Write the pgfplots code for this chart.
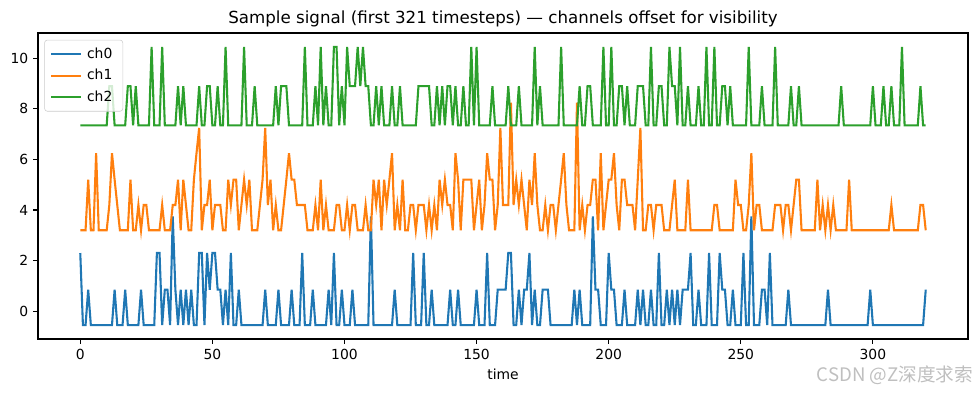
\documentclass[border=0pt]{standalone}
\usepackage{fontspec}
\setmainfont{DejaVu Sans}
\newfontfamily\cjk{Noto Sans CJK SC}
\usepackage{pgfplots}
\usepackage{pgfplotstable}
\pgfplotsset{compat=1.18}
\definecolor{c0}{HTML}{1F77B4}
\definecolor{c1}{HTML}{FF7F0E}
\definecolor{c2}{HTML}{2CA02C}
\pgfplotstableread{
t a b c
0 2.3 3.2 7.35
1 -0.55 3.2 7.35
2 -0.55 3.2 7.35
3 0.85 5.2 7.35
4 -0.55 3.2 7.35
5 -0.55 3.2 7.35
6 -0.55 6.25 7.35
7 -0.55 3.2 7.35
8 -0.55 3.2 7.35
9 -0.55 3.2 7.35
10 -0.55 3.2 7.35
11 -0.55 4.2 8.9
12 -0.55 6.25 8.9
13 0.85 5.2 7.35
14 -0.55 4.2 7.35
15 -0.55 3.2 7.35
16 -0.55 3.2 7.35
17 0.85 3.2 7.35
18 -0.55 3.2 8.9
19 -0.55 5.2 8.9
20 -0.55 3.2 7.35
21 -0.55 3.2 8.9
22 -0.55 4.2 7.35
23 0.85 3.2 7.35
24 -0.55 4.2 7.35
25 -0.55 4.2 7.35
26 -0.55 3.2 7.35
27 -0.55 3.2 10.45
28 -0.55 3.2 7.35
29 2.3 3.2 7.35
30 2.3 3.2 7.35
31 -0.55 4.2 10.45
32 0.85 3.2 7.35
33 0.85 3.2 7.35
34 -0.55 3.2 7.35
35 3.75 4.2 7.35
36 0.85 4.2 7.35
37 -0.55 5.2 8.9
38 0.85 3.2 7.35
39 -0.55 5.2 8.9
40 0.85 4.2 7.35
41 -0.55 3.2 7.35
42 0.85 3.2 7.35
43 -0.55 5.2 7.35
44 -0.55 6.25 7.35
45 2.3 7.25 8.9
46 2.3 3.2 7.35
47 -0.55 4.2 7.35
48 2.3 4.2 8.9
49 0.85 5.2 8.9
50 2.3 3.2 7.35
51 2.3 4.2 7.35
52 0.85 4.2 8.9
53 0.85 4.2 7.35
54 -0.55 3.2 7.35
55 0.85 3.2 10.45
56 -0.55 5.2 7.35
57 2.3 4.2 7.35
58 -0.55 5.2 7.35
59 -0.55 5.2 7.35
60 0.85 3.2 7.35
61 -0.55 4.2 7.35
62 -0.55 5.2 10.45
63 -0.55 4.2 7.35
64 -0.55 5.2 7.35
65 -0.55 3.2 7.35
66 -0.55 3.2 8.9
67 -0.55 3.2 7.35
68 -0.55 4.2 7.35
69 -0.55 5.2 7.35
70 0.85 7.25 7.35
71 -0.55 4.2 7.35
72 -0.55 5.2 7.35
73 -0.55 3.2 7.35
74 -0.55 4.2 8.9
75 0.85 3.2 7.35
76 -0.55 3.2 8.9
77 -0.55 4.2 8.9
78 -0.55 5.2 8.9
79 -0.55 6.25 7.35
80 0.85 5.2 7.35
81 -0.55 5.2 7.35
82 -0.55 4.2 7.35
83 -0.55 4.2 7.35
84 2.3 4.2 7.35
85 -0.55 4.2 10.45
86 -0.55 3.2 7.35
87 -0.55 3.2 7.35
88 0.85 3.2 7.35
89 -0.55 4.2 8.9
90 -0.55 3.2 7.35
91 -0.55 5.2 10.45
92 -0.55 3.2 7.35
93 -0.55 4.2 8.9
94 0.85 3.2 7.35
95 -0.55 3.2 7.35
96 2.3 3.2 10.45
97 -0.55 4.2 10.45
98 -0.55 4.2 7.35
99 0.85 3.2 8.9
100 -0.55 3.2 7.35
101 -0.55 4.2 10.45
102 -0.55 3.2 8.9
103 0.85 4.2 8.9
104 -0.55 4.2 8.9
105 -0.55 3.2 10.45
106 -0.55 3.2 8.9
107 -0.55 3.2 10.45
108 -0.55 4.2 8.9
109 -0.55 3.2 8.9
110 3.75 3.2 7.35
111 -0.55 5.2 7.35
112 -0.55 4.2 8.9
113 -0.55 5.2 7.35
114 -0.55 3.2 8.9
115 -0.55 5.2 7.35
116 -0.55 4.2 7.35
117 -0.55 5.2 7.35
118 -0.55 6.25 8.9
119 0.85 3.2 7.35
120 -0.55 4.2 7.35
121 -0.55 3.2 8.9
122 -0.55 5.2 7.35
123 -0.55 3.2 7.35
124 -0.55 3.2 7.35
125 -0.55 4.2 7.35
126 2.3 4.2 7.35
127 -0.55 3.2 7.35
128 -0.55 4.2 8.9
129 -0.55 4.2 8.9
130 2.3 4.2 8.9
131 -0.55 3.2 8.9
132 -0.55 4.2 8.9
133 0.85 3.2 7.35
134 -0.55 4.2 7.35
135 -0.55 3.2 8.9
136 -0.55 5.2 7.35
137 -0.55 4.2 8.9
138 -0.55 5.2 7.35
139 -0.55 4.2 8.9
140 0.85 4.2 8.9
141 -0.55 3.2 7.35
142 -0.55 6.25 8.9
143 0.85 5.2 7.35
144 -0.55 3.2 7.35
145 -0.55 5.2 8.9
146 -0.55 5.2 7.35
147 -0.55 5.2 7.35
148 -0.55 5.2 10.45
149 -0.55 3.2 7.35
150 0.85 4.2 10.45
151 -0.55 5.2 7.35
152 -0.55 3.2 7.35
153 -0.55 4.2 7.35
154 2.3 6.25 7.35
155 -0.55 5.2 7.35
156 -0.55 5.2 8.9
157 -0.55 3.2 7.35
158 0.85 4.2 7.35
159 0.85 7.25 7.35
160 0.85 4.2 7.35
161 0.85 4.2 7.35
162 2.3 4.2 8.9
163 2.3 8.25 7.35
164 -0.55 4.2 7.35
165 -0.55 5.2 7.35
166 0.85 4.2 8.9
167 -0.55 5.2 7.35
168 0.85 4.2 7.35
169 0.85 3.2 7.35
170 2.3 5.2 7.35
171 -0.55 4.2 7.35
172 0.85 6.25 10.45
173 -0.55 4.2 7.35
174 -0.55 3.2 8.9
175 0.85 3.2 7.35
176 0.85 4.2 7.35
177 0.85 3.2 7.35
178 -0.55 4.2 7.35
179 -0.55 4.2 7.35
180 -0.55 3.2 7.35
181 -0.55 4.2 7.35
182 -0.55 5.2 10.45
183 -0.55 6.25 7.35
184 -0.55 4.2 7.35
185 -0.55 3.2 7.35
186 -0.55 3.2 7.35
187 0.85 3.2 7.35
188 -0.55 8.25 7.35
189 0.85 3.2 8.9
190 -0.55 4.2 7.35
191 -0.55 3.2 7.35
192 -0.55 4.2 8.9
193 -0.55 4.2 8.9
194 3.75 5.2 7.35
195 0.85 5.2 7.35
196 0.85 3.2 7.35
197 -0.55 6.25 7.35
198 -0.55 3.2 10.45
199 -0.55 4.2 7.35
200 2.3 5.2 7.35
201 0.85 5.2 10.45
202 0.85 6.25 7.35
203 -0.55 4.2 7.35
204 -0.55 3.2 8.9
205 -0.55 5.2 8.9
206 0.85 5.2 7.35
207 -0.55 4.2 8.9
208 -0.55 4.2 7.35
209 -0.55 4.2 7.35
210 -0.55 3.2 7.35
211 0.85 5.2 8.9
212 -0.55 7.25 8.9
213 0.85 3.2 8.9
214 -0.55 3.2 7.35
215 -0.55 4.2 7.35
216 0.85 4.2 10.45
217 -0.55 3.2 7.35
218 -0.55 4.2 7.35
219 2.3 4.2 8.9
220 -0.55 4.2 8.9
221 -0.55 3.2 7.35
222 0.85 3.2 7.35
223 -0.55 3.2 10.45
224 0.85 4.2 8.9
225 -0.55 5.2 8.9
226 0.85 3.2 7.35
227 -0.55 3.2 10.45
228 0.85 3.2 7.35
229 0.85 3.2 7.35
230 0.85 5.2 8.9
231 2.3 3.2 7.35
232 -0.55 3.2 7.35
233 -0.55 3.2 7.35
234 0.85 3.2 8.9
235 -0.55 3.2 7.35
236 -0.55 3.2 7.35
237 -0.55 3.2 10.45
238 2.3 3.2 7.35
239 -0.55 3.2 7.35
240 -0.55 4.2 10.45
241 -0.55 4.2 7.35
242 2.3 3.2 7.35
243 0.85 3.2 8.9
244 0.85 3.2 8.9
245 -0.55 3.2 7.35
246 -0.55 3.2 8.9
247 0.85 3.2 7.35
248 -0.55 5.2 7.35
249 -0.55 4.2 7.35
250 -0.55 4.2 7.35
251 2.3 3.2 7.35
252 -0.55 3.2 7.35
253 -0.55 4.2 10.45
254 3.75 6.25 7.35
255 -0.55 3.2 7.35
256 -0.55 4.2 7.35
257 -0.55 4.2 7.35
258 0.85 3.2 8.9
259 0.85 3.2 7.35
260 -0.55 3.2 7.35
261 2.3 3.2 7.35
262 -0.55 3.2 7.35
263 -0.55 4.2 10.45
264 -0.55 4.2 7.35
265 -0.55 4.2 7.35
266 -0.55 3.2 7.35
267 -0.55 4.2 7.35
268 0.85 4.2 7.35
269 -0.55 3.2 8.9
270 -0.55 4.2 7.35
271 -0.55 5.2 7.35
272 -0.55 5.2 8.9
273 -0.55 3.2 7.35
274 -0.55 3.2 7.35
275 -0.55 3.2 7.35
276 -0.55 3.2 7.35
277 -0.55 3.2 7.35
278 -0.55 3.2 7.35
279 -0.55 5.2 7.35
280 -0.55 3.2 7.35
281 -0.55 4.2 7.35
282 -0.55 3.2 7.35
283 0.85 4.2 7.35
284 -0.55 3.2 7.35
285 -0.55 4.2 7.35
286 -0.55 3.2 7.35
287 -0.55 3.2 7.35
288 -0.55 3.2 8.9
289 -0.55 3.2 7.35
290 -0.55 3.2 7.35
291 -0.55 5.2 7.35
292 -0.55 3.2 7.35
293 -0.55 3.2 7.35
294 -0.55 3.2 7.35
295 -0.55 3.2 7.35
296 -0.55 3.2 7.35
297 -0.55 3.2 7.35
298 -0.55 3.2 7.35
299 0.85 3.2 7.35
300 -0.55 3.2 8.9
301 -0.55 3.2 7.35
302 -0.55 3.2 7.35
303 -0.55 3.2 7.35
304 -0.55 3.2 8.9
305 -0.55 3.2 7.35
306 -0.55 3.2 7.35
307 -0.55 4.2 8.9
308 -0.55 3.2 7.35
309 -0.55 3.2 7.35
310 -0.55 3.2 7.35
311 -0.55 3.2 10.45
312 -0.55 3.2 7.35
313 -0.55 3.2 7.35
314 -0.55 3.2 7.35
315 -0.55 3.2 7.35
316 -0.55 3.2 7.35
317 -0.55 3.2 7.35
318 -0.55 4.2 8.9
319 -0.55 4.2 7.35
320 0.85 3.2 7.35
}\data
\begin{document}
\begin{tikzpicture}
\useasboundingbox (-27.36pt,-38.9pt) rectangle (676.08pt,244.08pt);
\begin{axis}[
  at={(0,0)}, anchor=south west,
  width=669.6pt, height=220.3pt, scale only axis,
  xmin=-16, xmax=336, ymin=-1.1, ymax=11.0,
  xtick={0,50,100,150,200,250,300},
  ytick={0,2,4,6,8,10},
  tick align=outside, xtick pos=bottom, ytick pos=left,
  major tick length=3.5pt,
  every tick/.style={black, line width=0.8pt},
  axis line style={line width=0.8pt},
  tick label style={font=\fontsize{10}{12}\selectfont},
  /pgf/number format/assume math mode=true,
  title={Sample signal (first 321 timesteps) — channels offset for visibility},
  title style={font=\fontsize{12}{14}\selectfont, at={(0.5,1)}, anchor=south, yshift=-5pt},
  xlabel={time},
  xlabel style={font=\fontsize{10}{12}\selectfont},
  legend style={at={(0.0068,0.978)}, anchor=north west, draw=black!20, rounded corners=2pt,
    fill=white, fill opacity=0.8, text opacity=1, font=\fontsize{10}{12}\selectfont,
    inner xsep=4pt, inner ysep=3.5pt, row sep=2.5pt,
    nodes={inner xsep=3.5pt}},
  legend cell align=left,
  legend image code/.code={\draw[#1] (0pt,0pt) -- (21.6pt,0pt);},
]
\addplot[c0, line width=1.5pt] table[x=t, y=a] {\data};
\addlegendentry{ch0}
\addplot[c1, line width=1.5pt] table[x=t, y=b] {\data};
\addlegendentry{ch1}
\addplot[c2, line width=1.5pt] table[x=t, y=c] {\data};
\addlegendentry{ch2}
\end{axis}
\node[anchor=east, inner sep=0pt, text=black!25, font=\cjk\fontsize{13.4}{15}\selectfont] at (673.4pt,-25.9pt) {CSDN @Z深度求索};
\end{tikzpicture}
\end{document}
